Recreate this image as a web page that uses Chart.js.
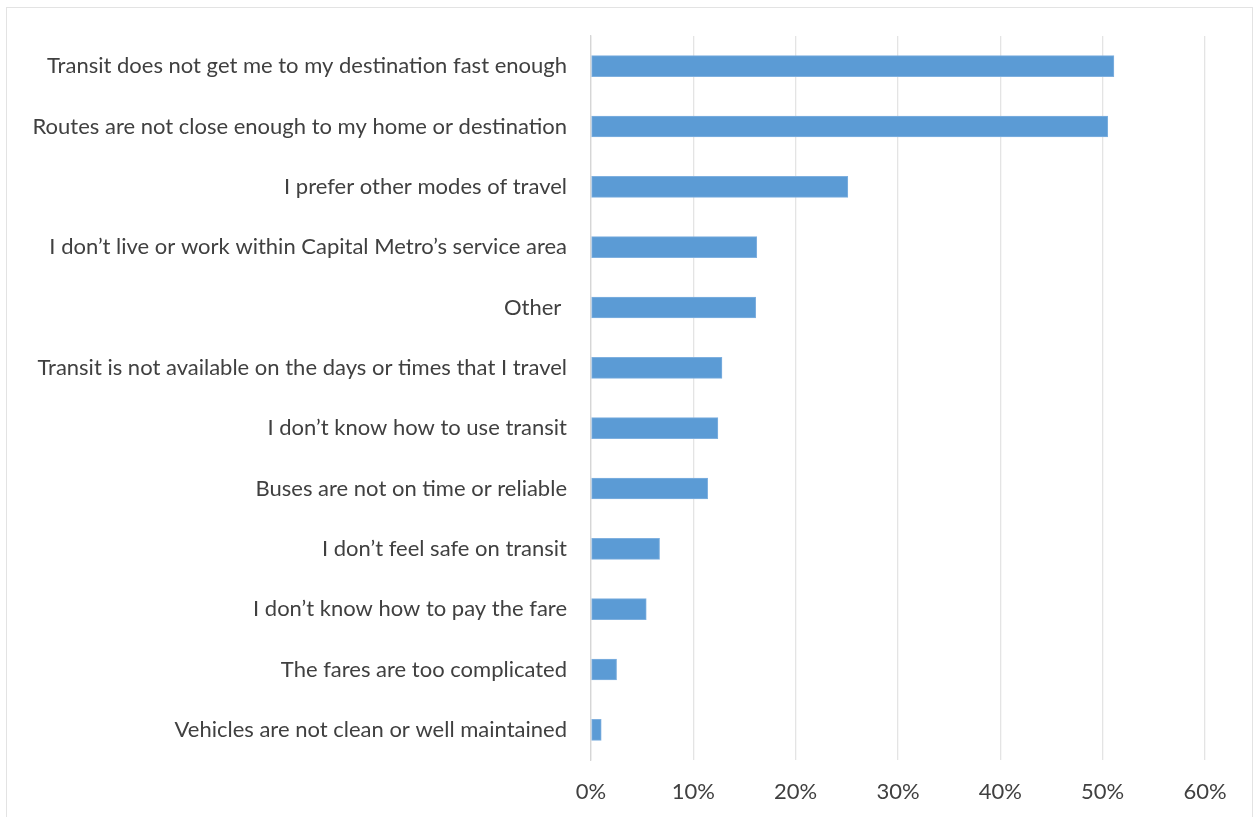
<!DOCTYPE html>
<html>
<head>
<meta charset="utf-8">
<script src="https://cdn.jsdelivr.net/npm/chart.js@4"></script>
<style>
  html, body { margin: 0; padding: 0; background: #fff; }
  #frame {
    position: absolute; left: 6px; top: 7px; width: 1247px; height: 820px;
    border: 1px solid #e3e3e3; box-sizing: border-box;
  }
  #wrap { position: absolute; left: 0; top: 0; width: 1256px; height: 817px; }
</style>
</head>
<body>
<div id="frame"></div>
<div id="wrap"><canvas id="bars"></canvas></div>
<script>
// survey reasons for not using transit, share of respondents (%)
const reasons = [
  "Transit does not get me to my destination fast enough",
  "Routes are not close enough to my home or destination",
  "I prefer other modes of travel",
  "I don\u2019t live or work within Capital Metro\u2019s service area",
  "Other ",
  "Transit is not available on the days or times that I travel",
  "I don\u2019t know how to use transit",
  "Buses are not on time or reliable",
  "I don\u2019t feel safe on transit",
  "I don\u2019t know how to pay the fare",
  "The fares are too complicated",
  "Vehicles are not clean or well maintained",
];
const shares = [51.1, 50.5, 25.1, 16.2, 16.1, 12.8, 12.4, 11.4, 6.7, 5.4, 2.5, 1.0];
const tickSteps = [0, 10, 20, 30, 40, 50, 60];

const labelFont = { family: "Lato", size: 22 };
const textColor = "#404040";

const ctx = document.getElementById("bars");
new Chart(ctx, {
  type: "bar",
  data: {
    labels: reasons,
    datasets: [
      {
        data: shares,
        backgroundColor: "#5b9bd5",
        borderColor: "#7fb0df",
        borderWidth: 1,
        borderSkipped: false,
        barThickness: 21,
      },
    ],
  },
  options: {
    indexAxis: "y",
    responsive: true,
    maintainAspectRatio: false,
    animation: false,
    layout: { padding: { left: 0, right: 51, top: 36, bottom: 0 } },
    plugins: { legend: { display: false }, tooltip: { enabled: false } },
    scales: {
      x: {
        min: 0,
        max: 60,
        afterBuildTicks: (scale) => {
          scale.ticks = tickSteps.map((v) => ({ value: v }));
        },
        afterFit: (scale) => {
          scale.height = 57;
        },
        grid: { color: "#e4e4e4", lineWidth: 1.3, drawTicks: false },
        border: { display: false },
        ticks: {
          color: textColor,
          font: labelFont,
          padding: 19,
          callback: (v) => v + "%",
        },
      },
      y: {
        afterFit: (scale) => {
          scale.width = 591;
        },
        grid: { display: false },
        border: { display: true, color: "#d6d6d6", width: 1.3 },
        ticks: {
          color: textColor,
          font: labelFont,
          padding: 16,
          autoSkip: false,
        },
      },
    },
  },
});
</script>
</body>
</html>
